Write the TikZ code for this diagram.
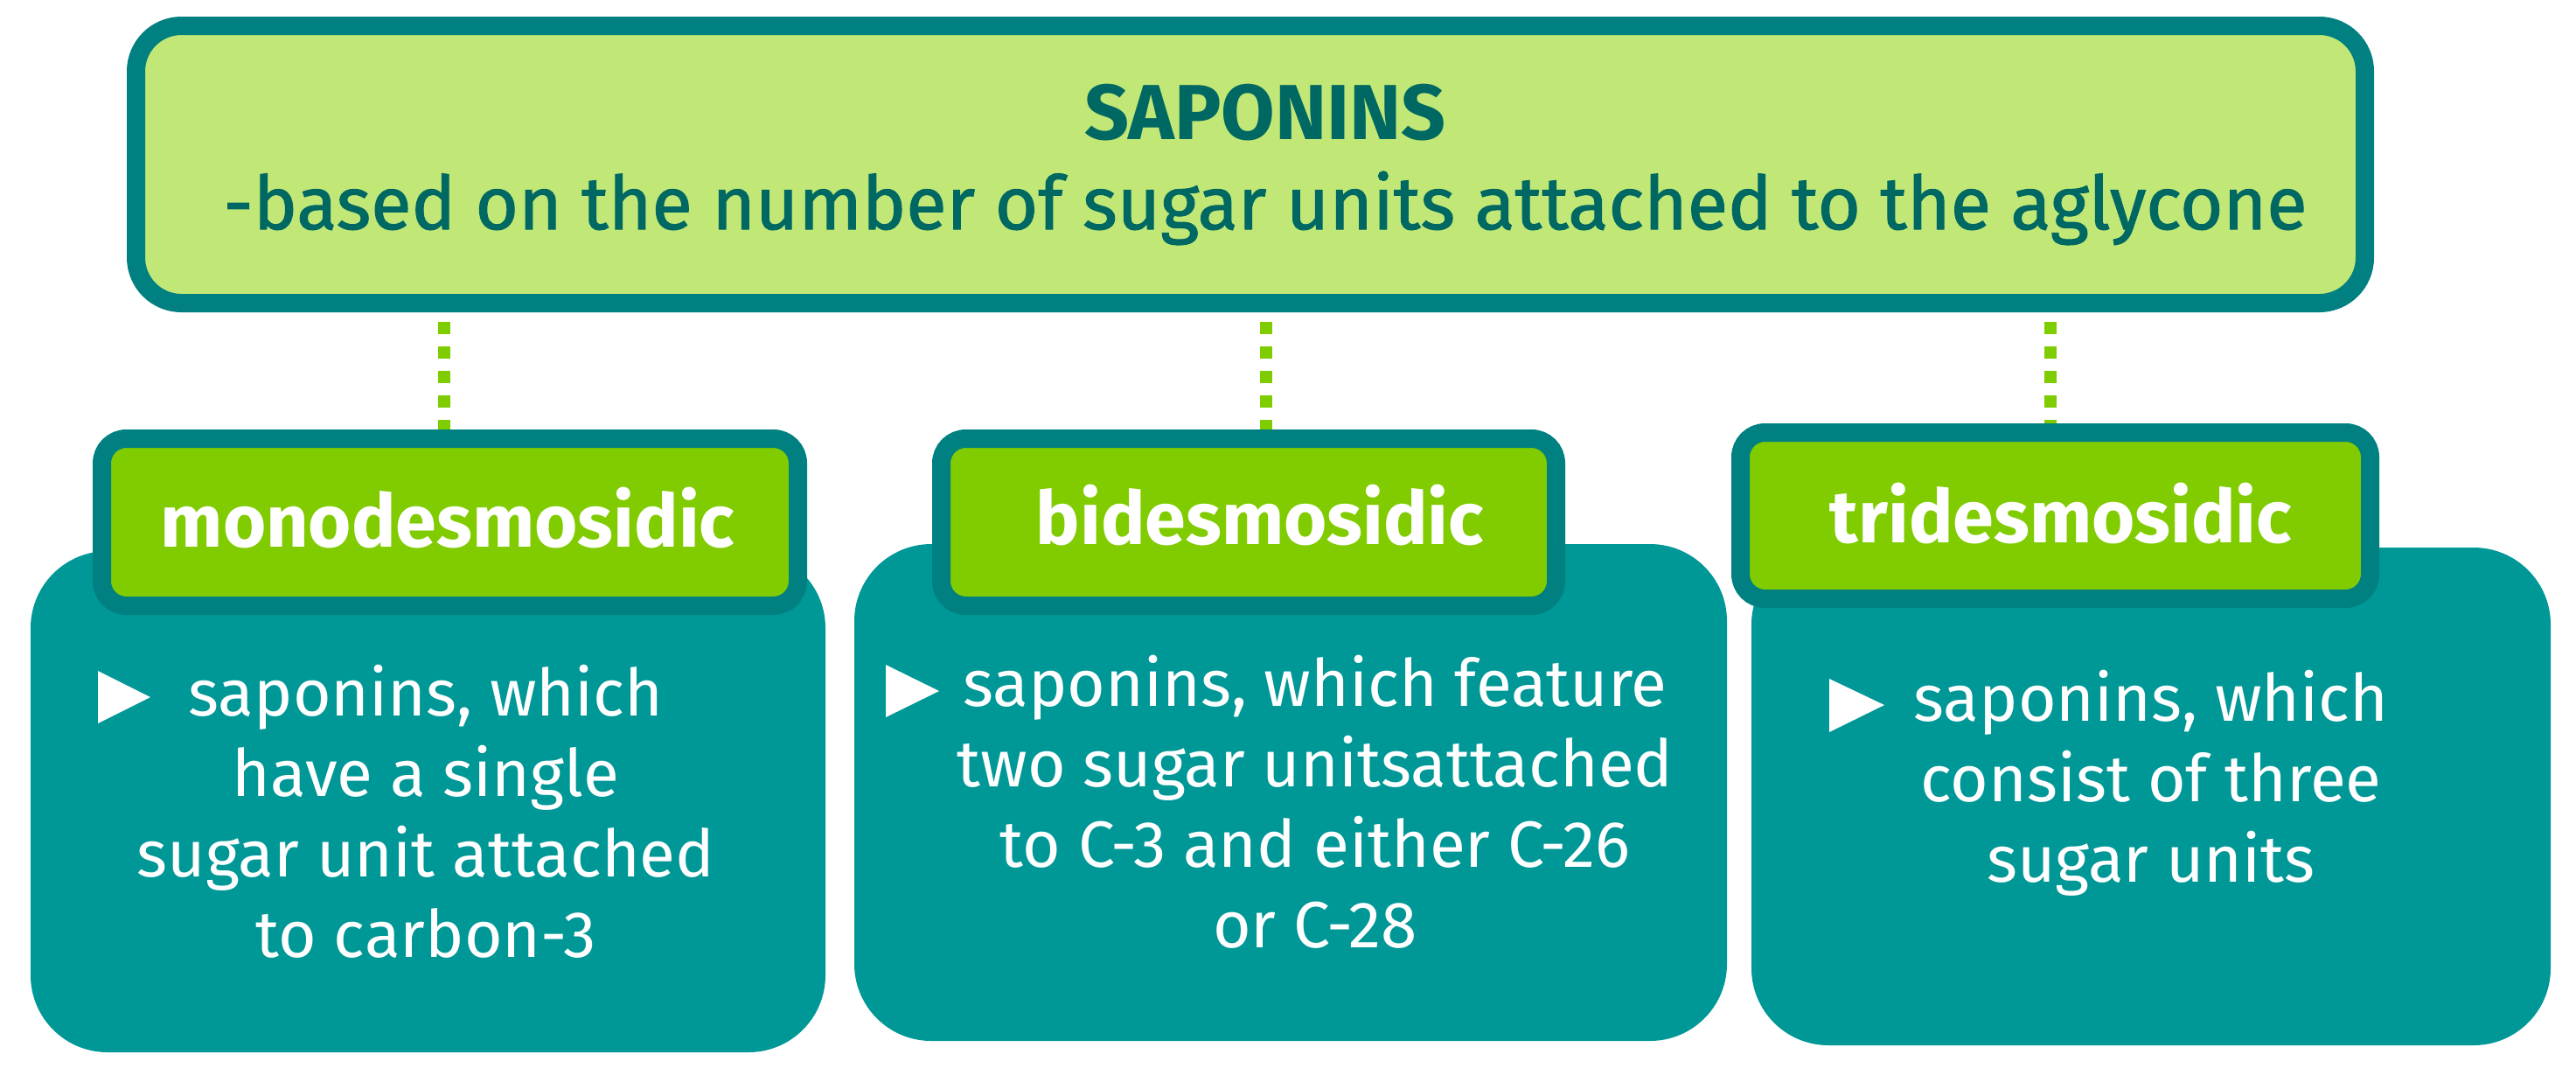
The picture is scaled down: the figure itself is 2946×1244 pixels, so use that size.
\documentclass[tikz,border=0pt]{standalone}
\usepackage{fontspec}
\setmainfont{Fira Sans}
\usetikzlibrary{calc}
\definecolor{borderteal}{HTML}{008080}
\definecolor{topfill}{HTML}{C1E776}
\definecolor{titletext}{HTML}{006862}
\definecolor{labfill}{HTML}{80CC00}
\definecolor{tealfill}{HTML}{009797}
\definecolor{dashgreen}{HTML}{7FCC00}
\pgfdeclarelayer{bg}
\pgfsetlayers{bg,main}
\tikzset{
  topbox/.style={draw=borderteal, fill=topfill, line width=5.25pt, rounded corners=13pt, inner sep=0pt},
  labbox/.style={draw=borderteal, fill=labfill, line width=5.25pt, rounded corners=7pt, inner sep=0pt},
  tealbox/.style={fill=tealfill, rounded corners=22pt, inner sep=0pt},
  conn/.style={draw=dashgreen, line width=3.5pt, dash pattern=on 3.5pt off 3.5pt, dash phase=4.25pt},
  labtext/.style={anchor=base, inner sep=0pt, text=white, font=\fontsize{21.1}{26}\selectfont\bfseries},
  bodytext/.style={anchor=base, inner sep=0pt, text=white, font=\fontsize{18.7}{23}\selectfont},
  bullet/.style={fill=white}
}
\begin{document}
\begin{tikzpicture}[x=0.25pt,y=-0.25pt]
\useasboundingbox (0,0) rectangle (2946,1244);
% top box
\node[topbox, minimum width=637.25pt, minimum height=79.25pt] (top) at (1430,188) {};
\node[anchor=base, inner sep=0pt, text=titletext, font=\fontsize{22.3}{28}\selectfont\bfseries] (title) at (1447,159) {SAPONINS};
\node[anchor=base, inner sep=0pt, text=titletext, font=\fontsize{21.2}{25}\selectfont\addfontfeatures{FakeBold=1.2}] (subtitle) at (1447,262) {-based on the number of sugar units attached to the aglycone};
% teal content boxes
\node[tealbox, minimum width=227.25pt, minimum height=143.25pt] (b1) at (489.5,916.5) {};
\node[tealbox, minimum width=249.5pt, minimum height=142pt] (b2) at (1476,906) {};
\node[tealbox, minimum width=228.5pt, minimum height=142.25pt] (b3) at (2460,910.5) {};
% label boxes
\node[labbox, minimum width=199pt, minimum height=47.75pt] (l1) at (514.5,597) {};
\node[labbox, minimum width=175.75pt, minimum height=47.75pt] (l2) at (1428,597) {};
\node[labbox, minimum width=180pt, minimum height=47.5pt] (l3) at (2350.5,589.5) {};
\node[labtext] (l1t) at (512,625) {monodesmosidic};
\node[labtext] (l2t) at (1441,622) {bidesmosidic};
\node[labtext] (l3t) at (2357,620) {tridesmosidic};
% connectors
\coordinate (c1) at ([xshift=-1.625pt]l1.north);
\coordinate (c2) at ([xshift=5pt]l2.north);
\coordinate (c3) at ([xshift=-1.375pt]l3.north);
\begin{pgfonlayer}{bg}
\draw[conn] (c1 |- top.south) -- (c1);
\draw[conn] (c2 |- top.south) -- (c2);
\draw[conn] (c3 |- top.south) -- (c3);
\end{pgfonlayer}
% body texts
\node[bodytext] (t1) at (487,818) {\begin{tabular}[t]{@{}c@{}}saponins, which\\have a single\\sugar unit attached\\to carbon-3\end{tabular}};
\node[bodytext] (t2) at (1504,807) {\begin{tabular}[t]{@{}c@{}}saponins, which feature\\two sugar unitsattached\\to C-3 and either C-26\\or C-28\end{tabular}};
\node[bodytext] (t3) at (2460,824) {\begin{tabular}[t]{@{}c@{}}saponins, which\\consist of three\\sugar units\end{tabular}};
% bullets
\fill[bullet] (112,767) -- (172,797) -- (112,827) -- cycle;
\fill[bullet] (1013,760) -- (1074,790) -- (1013,820) -- cycle;
\fill[bullet] (2092,776) -- (2155,806) -- (2092,837) -- cycle;
\end{tikzpicture}
\end{document}
